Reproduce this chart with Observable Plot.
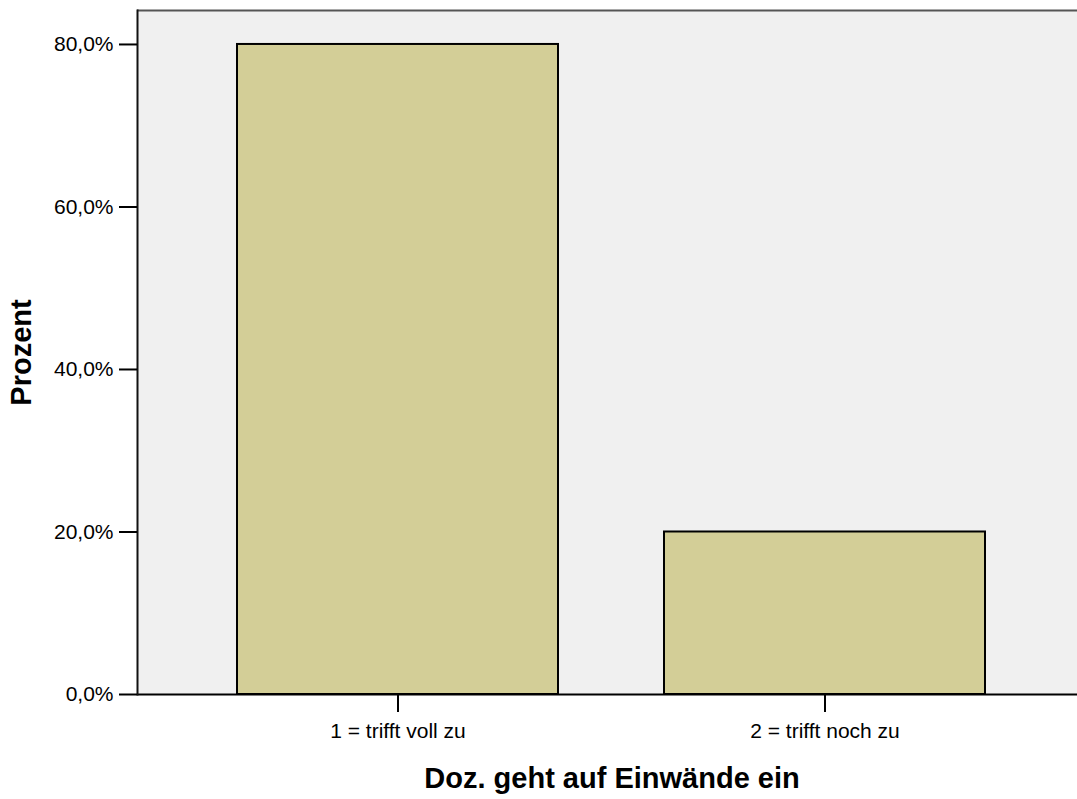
<!DOCTYPE html>
<html>
<head>
<meta charset="utf-8">
<script src="https://cdn.jsdelivr.net/npm/d3@7"></script>
<script src="https://cdn.jsdelivr.net/npm/@observablehq/plot@0.6"></script>
<style>
  html, body { margin: 0; padding: 0; background: #fff; }
  #chart { width: 1077px; height: 799px; overflow: hidden; }
</style>
</head>
<body>
<div id="chart"></div>
<script>
const categories = ["1 = trifft voll zu", "2 = trifft noch zu"];
const percents = [80.0, 20.0];
const yTicks = [0, 20, 40, 60, 80];
const xTitle = "Doz. geht auf Einwände ein";
const yTitle = "Prozent";

const data = categories.map((c, i) => ({category: c, percent: percents[i]}));
const yMax = 84.18;

const chart = Plot.plot({
  width: 1086,
  height: 799,
  marginLeft: 137,
  marginRight: 0,
  marginTop: 10,
  marginBottom: 105,
  style: {maxWidth: "none", background: "white", fontFamily: "'Liberation Sans', Arial, sans-serif"},
  x: {domain: categories, paddingInner: 0.248, paddingOuter: 0.235, axis: null},
  y: {domain: [0, yMax], axis: null},
  marks: [
    Plot.frame({fill: "#f0f0f0", stroke: "none"}),
    Plot.barY(data, {x: "category", y: "percent", fill: "#d3ce97", stroke: "#000", strokeWidth: 2}),
    Plot.ruleY([yMax], {stroke: "#555", strokeWidth: 2}),
    Plot.ruleY([0], {stroke: "#000", strokeWidth: 2}),
    Plot.frame({stroke: "#111", strokeWidth: 2, fill: "none", anchor: "left"}),
    Plot.axisY({ticks: yTicks, tickSize: 18, tickPadding: 6, strokeWidth: 2, stroke: "#000",
      tickFormat: d => d.toFixed(1).replace(".", ",") + "%", fontSize: 21, fill: "#000", label: null}),
    Plot.axisX({tickSize: 18, tickPadding: 11, strokeWidth: 2, stroke: "#000",
      fontSize: 21, fill: "#000", label: null}),
    Plot.text([xTitle], {frameAnchor: "bottom", dy: 84, textAnchor: "middle", lineAnchor: "middle",
      fontSize: 29, fontWeight: "bold", fill: "#000"}),
    Plot.text([yTitle], {frameAnchor: "left", dx: -116, rotate: -90, textAnchor: "middle", lineAnchor: "middle",
      fontSize: 29, fontWeight: "bold", fill: "#000"})
  ]
});
document.getElementById("chart").appendChild(chart);
</script>
</body>
</html>
